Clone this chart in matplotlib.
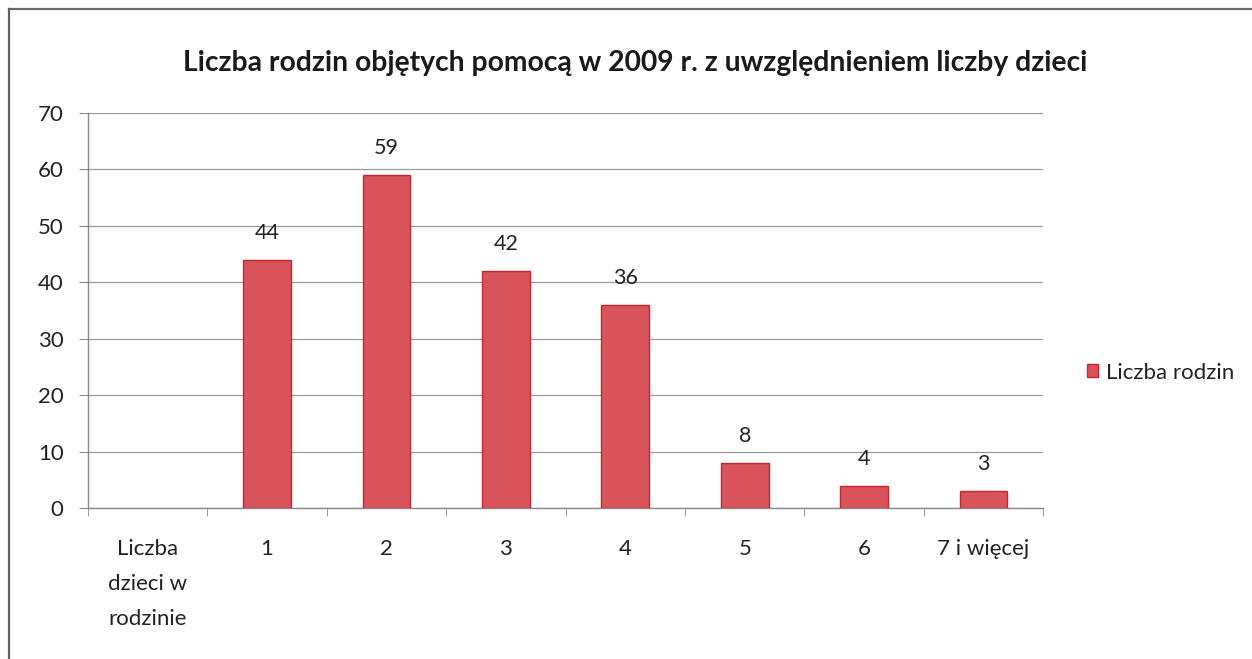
import numpy as np
import matplotlib
matplotlib.use('Agg')
import matplotlib.pyplot as plt
from matplotlib.lines import Line2D

# Data
categories = ['Liczba\ndzieci w\nrodzinie', '1', '2', '3', '4', '5', '6', '7 i więcej']
families = [np.nan, 44, 59, 42, 36, 8, 4, 3]
title = 'Liczba rodzin objętych pomocą w 2009 r. z uwzględnieniem liczby dzieci'
series_name = 'Liczba rodzin'

plt.rcParams['font.family'] = ['Lato', 'DejaVu Sans']

fig = plt.figure(figsize=(12.52, 6.59), dpi=100)
ax = fig.add_axes([0.0703, 0.229, 0.763, 0.5995])

x = np.arange(len(categories))
bars = ax.bar(x, families, width=0.4, color='#d9545a', edgecolor='#c8262c',
              linewidth=1.0, label=series_name, zorder=3)

# Value labels above bars
for xi, v in zip(x, families):
    if not np.isnan(v):
        ax.annotate(f'{v:g}', (xi, v), xytext=(0, 12), textcoords='offset points',
                    ha='center', va='bottom', fontsize=15.5, color='#222222')

ax.set_xlim(-0.5, len(categories) - 0.5)
ax.set_ylim(0, 70)
ax.set_yticks(range(0, 71, 10))
ax.yaxis.grid(True, color='#9a9a9a', linewidth=0.9, zorder=0)
ax.set_axisbelow(True)

ax.set_xticks(x)
ax.set_xticklabels(categories, fontsize=16, color='#222222', linespacing=1.95)
ax.set_xticks(np.arange(-0.5, len(categories), 1.0), minor=True)
ax.tick_params(axis='x', which='major', length=0, pad=22)
ax.tick_params(axis='x', which='minor', length=6, color='#8a8a8a', direction='out')
ax.tick_params(axis='y', length=6.5, color='#8a8a8a', labelsize=16, labelcolor='#222222', pad=11)

for side in ['top', 'right']:
    ax.spines[side].set_visible(False)
for side in ['left', 'bottom']:
    ax.spines[side].set_color('#8a8a8a')
    ax.spines[side].set_linewidth(1.0)

# Title
fig.text(0.507, 0.905, title, ha='center', va='center', fontsize=20.3,
         fontweight='bold', color='#1a1a1a')

# Legend at right
ax.legend(loc='center left', bbox_to_anchor=(1.025, 0.343), frameon=False,
          fontsize=16, handlelength=0.5, handleheight=0.55, handletextpad=0.35,
          labelcolor='#222222')

# Frame lines (top and left only, as in the scan)
fig.add_artist(Line2D([0.007, 1.0], [0.986, 0.986], color='#6a6a6a', linewidth=1.6,
                      transform=fig.transFigure))
fig.add_artist(Line2D([0.0072, 0.0072], [0.0, 0.986], color='#6a5a5a', linewidth=1.6,
                      transform=fig.transFigure))

fig.savefig('out.png', dpi=100, facecolor='white')
